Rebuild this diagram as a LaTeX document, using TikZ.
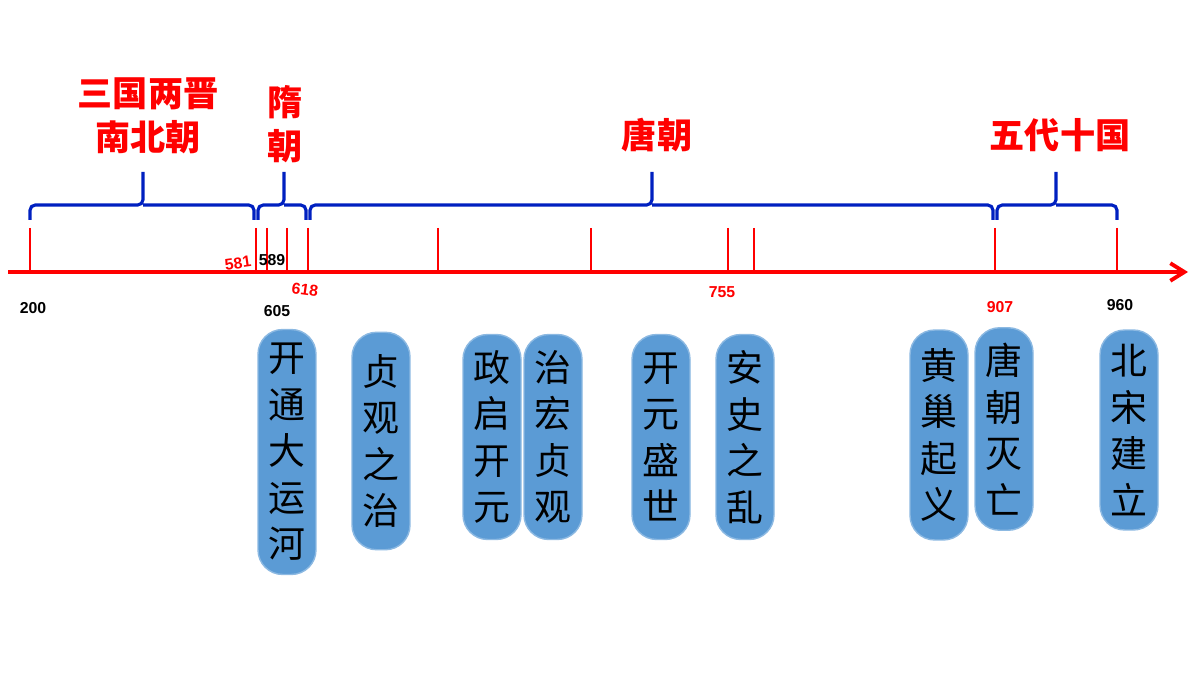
\documentclass[tikz,border=0pt]{standalone}
\usepackage{fontspec}
\usetikzlibrary{arrows.meta}
\setmainfont{Liberation Sans}
\newfontfamily\cjk{Noto Sans CJK SC}
\definecolor{pillblue}{HTML}{5B9BD5}
\definecolor{axisred}{HTML}{FF0000}
\definecolor{bracketblue}{HTML}{0020C0}
\tikzset{
  pill/.style={rectangle, rounded corners=14pt, fill=pillblue, draw=pillblue!70!white, line width=0.8pt,
    minimum width=1.16cm, inner sep=3pt, align=center, font=\cjk\fontsize{21}{26.5}\selectfont},
  era/.style={text=axisred, align=center, font=\cjk\bfseries\fontsize{20}{25}\selectfont},
  year/.style={font=\bfseries\fontsize{9}{10}\selectfont, inner sep=0pt},
  tick/.style={axisred, line width=1.5pt},
  bracket/.style={bracketblue, line width=1.8pt, rounded corners=3pt}
}
\begin{document}
\begin{tikzpicture}[x=0.02cm, y=-0.02cm]
  \useasboundingbox (0,0) rectangle (1200,675);
  % axis
  \coordinate (a0) at (8,272);
  \coordinate (a1) at (1188,272);
  \draw[axisred, line width=2.2pt, -{Straight Barb[length=8pt,width=10pt]}] (a0) -- (a1);
  \foreach \x in {30,256,267,287,308,438,591,728,754,995,1117}
    \draw[tick] (\x,228) -- (\x,272);
  % brackets
  \draw[bracket] (30,220) -- (30,205) -- (143,205) -- (143,172) (143,205) -- (254,205) -- (254,220);
  \draw[bracket] (258,220) -- (258,205) -- (284,205) -- (284,172) (284,205) -- (306,205) -- (306,220);
  \draw[bracket] (310,220) -- (310,205) -- (652,205) -- (652,172) (652,205) -- (993,205) -- (993,220);
  \draw[bracket] (997,220) -- (997,205) -- (1056,205) -- (1056,172) (1056,205) -- (1117,205) -- (1117,220);
  % eras
  \node[era] (e1) at (148,116) {三国两晋\\南北朝};
  \node[era] (e2) at (285,124) {隋\\朝};
  \node[era] (e3) at (657,135) {唐朝};
  \node[era] (e4) at (1060,135) {五代十国};
  % years
  \node[year] (y200) at (33,308) {200};
  \node[year, text=axisred, rotate=8] (y581) at (238,263) {581};
  \node[year] (y589) at (272,260) {589};
  \node[year] (y605) at (277,311) {605};
  \node[year, text=axisred, rotate=-8] (y618) at (305,290) {618};
  \node[year, text=axisred] (y755) at (722,292) {755};
  \node[year, text=axisred] (y907) at (1000,307) {907};
  \node[year] (y960) at (1120,305) {960};
  % events
  \node[pill, minimum height=4.9cm] (p1) at (287,452) {开\\通\\大\\运\\河};
  \node[pill, minimum height=4.35cm] (p2) at (381,441) {贞\\观\\之\\治};
  \node[pill, minimum height=4.1cm] (p3) at (492,437) {政\\启\\开\\元};
  \node[pill, minimum height=4.1cm] (p4) at (553,437) {治\\宏\\贞\\观};
  \node[pill, minimum height=4.1cm] (p5) at (661,437) {开\\元\\盛\\世};
  \node[pill, minimum height=4.1cm] (p6) at (745,437) {安\\史\\之\\乱};
  \node[pill, minimum height=4.2cm] (p7) at (939,435) {黄\\巢\\起\\义};
  \node[pill, minimum height=4.05cm] (p8) at (1004,429) {唐\\朝\\灭\\亡};
  \node[pill, minimum height=4.0cm] (p9) at (1129,430) {北\\宋\\建\\立};
\end{tikzpicture}
\end{document}
